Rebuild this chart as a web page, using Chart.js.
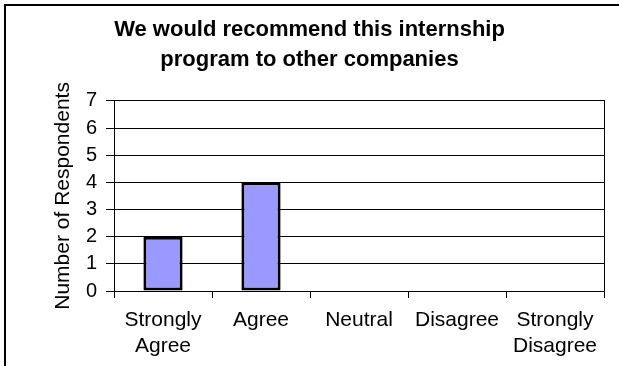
<!DOCTYPE html>
<html>
<head>
<meta charset="utf-8">
<script src="https://cdn.jsdelivr.net/npm/chart.js@4"></script>
<style>
  body { margin: 0; background: #fff; }
  #wrap { position: relative; width: 619px; height: 366px; overflow: hidden; }
  #frame { position: absolute; left: 4px; top: 4px; width: 700px; height: 500px;
           border-left: 2px solid #000; border-top: 2px solid #000; }
  #myChart { position: absolute; left: 0; top: 0; }
</style>
</head>
<body>
<div id="wrap">
  <div id="frame"></div>
  <canvas id="myChart" width="619" height="366"></canvas>
</div>
<script>
const ctx = document.getElementById('myChart');

// survey answers
var categorie = [['Strongly', 'Agree'], 'Agree', 'Neutral', 'Disagree', ['Strongly', 'Disagree']];
var risposte = [2, 4, 0, 0, 0];
var tacche = [0, 1, 2, 3, 4, 5, 6, 7];

var font = 'Liberation Sans, Arial, sans-serif';

new Chart(ctx, {
    type: 'bar',
    data: {
        labels: categorie,
        datasets: [{
            label: 'Respondents',
            data: risposte,
            backgroundColor: '#9999FF',
            borderColor: '#000000',
            borderWidth: 3,
            borderSkipped: false,
            barPercentage: 0.4,
            categoryPercentage: 1,
        }]
    },
    options: {
        responsive: false,
        animation: false,
        layout: { padding: { left: 15, right: 15, top: 15, bottom: 6 } },
        plugins: {
            legend: { display: false },
            tooltip: { enabled: false },
            title: {
                display: true,
                text: ['We would recommend this internship', 'program to other companies'],
                color: '#000',
                font: { family: font, size: 22, weight: 'bold', lineHeight: 1.36 },
                padding: { top: 0, bottom: 26 }
            }
        },
        scales: {
            x: {
                offset: true,
                grid: { offset: true, drawOnChartArea: false, color: '#000', tickLength: 7, lineWidth: 1 },
                border: { color: '#000', width: 1 },
                ticks: { color: '#000', font: { family: font, size: 21, lineHeight: 1.2 }, padding: 10, maxRotation: 0, autoSkip: false },
                afterFit: (s) => { s.height = 69; }
            },
            y: {
                min: 0,
                max: 7,
                afterBuildTicks: (s) => { s.ticks = tacche.map(v => ({ value: v })); },
                grid: { color: '#000', tickLength: 8, lineWidth: 1 },
                border: { color: '#000', width: 1 },
                ticks: { color: '#000', font: { family: font, size: 20 }, padding: 9 },
                title: {
                    display: true,
                    text: 'Number of Respondents',
                    color: '#000',
                    font: { family: font, size: 21, lineHeight: 1.2 },
                    padding: { top: 36, bottom: 0 }
                },
                afterFit: (s) => { s.width = 99; }
            },
            y2: {
                position: 'right',
                min: 0,
                max: 7,
                grid: { drawOnChartArea: false, drawTicks: false },
                border: { color: '#000', width: 1 },
                ticks: { display: false },
                afterFit: (s) => { s.width = 0; }
            }
        }
    }
});
</script>
</body>
</html>
